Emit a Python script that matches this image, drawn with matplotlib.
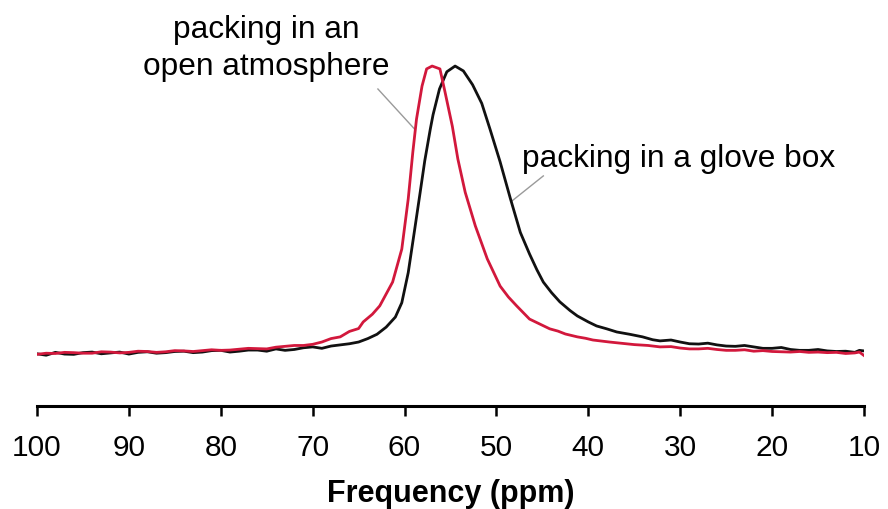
import numpy as np
import matplotlib.pyplot as plt

# 13C-achtige NMR spectra, genormaliseerd op piekhoogte (0 = basislijn, 100 = piek)
ppm_glove = [100, 99, 98, 97, 96, 95, 94, 93, 92, 91, 90, 89, 88, 87, 86, 85, 84, 83, 82, 81,
             80, 79, 78, 77, 76, 75, 74, 73, 72, 71, 70, 69, 68, 67, 66, 65, 64, 63, 62, 61,
             60.3, 59.6, 58.9, 58.3, 57.8, 57.2, 56.9, 56.2, 55.4, 54.5, 53.6, 52.6, 51.6,
             50.7, 49.6, 48.5, 47.4, 46.4, 45.6, 44.9, 44, 43.1, 42, 41.2, 40, 39.1, 38, 36.9,
             35.5, 34.1, 33, 32.2, 31, 30, 29, 28, 27, 26, 25, 24, 23, 22, 21, 20, 19, 18, 17,
             16, 15, 14, 13, 12, 11, 10.5, 10]
h_glove = [-0.3, -0.8, 0.2, -0.4, -0.5, 0.1, 0.3, -0.3, 0.0, 0.3, -0.4, 0.2, 0.4, -0.1, 0.1, 0.5,
           0.6, 0.1, 0.3, 0.8, 0.9, 0.3, 0.6, 1.0, 1.0, 0.6, 1.4, 0.9, 1.2, 1.8, 2.1, 1.6, 2.4, 2.8,
           3.2, 3.8, 5.0, 6.5, 9.0, 12.5,
           17.5, 28.0, 43.0, 56.0, 67.0, 78.0, 83.0, 92.0, 98.0, 100.0, 98.3, 93.5, 87.0,
           78.0, 66.6, 54.0, 42.0, 34.5, 29.0, 24.7, 21.0, 17.8, 14.8, 12.9, 10.8, 9.4, 8.4, 7.3,
           6.5, 5.6, 4.6, 4.2, 4.5, 3.8, 3.2, 3.1, 3.4, 2.8, 2.4, 2.3, 2.6, 2.1, 1.6, 1.6, 1.9, 1.2,
           0.9, 0.9, 1.2, 0.7, 0.5, 0.6, 0.2, 0.9, 0.7]

ppm_open = [100, 99, 98, 97, 96, 95, 94, 93, 92, 91, 90, 89, 88, 87, 86, 85, 84, 83, 82, 81,
            80, 79, 78, 77, 76, 75, 74, 73, 72, 71, 70, 69, 68, 67, 66, 65, 64.5, 63.5, 62.7,
            61.3, 60.3, 59.6, 59.1, 58.7, 58.1, 57.6, 57.0, 56.15, 55.6, 54.8, 54.2, 53.4,
            52.3, 51.0, 49.6, 48.7, 47.8, 46.4, 45.3, 44.2, 43.3, 42.5, 41.2, 40.3, 39.5, 37.7,
            36.5, 35, 33.5, 32.2, 31, 30, 29, 28, 27, 26, 25, 24, 23, 22, 21, 20, 19, 18, 17,
            16, 15, 14, 13, 12, 11, 10.5, 10]
h_open = [-0.5, -0.1, -0.2, 0.2, 0.1, -0.1, -0.1, 0.4, 0.3, 0.0, 0.2, 0.6, 0.5, 0.2, 0.4, 0.8,
          0.7, 0.5, 0.8, 1.1, 0.9, 1.0, 1.3, 1.6, 1.5, 1.4, 2.0, 2.3, 2.6, 2.6, 3.0, 3.8, 5.0, 5.6,
          7.5, 8.5, 10.8, 13.5, 16.4,
          24.7, 36.2, 53.7, 70.0, 81.5, 93.0, 99.0, 100.0, 99.0, 91.0, 79.0, 67.6, 56.0,
          44.3, 32.8, 23.3, 19.5, 16.4, 11.8, 10.1, 8.4, 7.6, 6.6, 5.6, 5.1, 4.5, 3.8,
          3.4, 2.9, 2.6, 2.1, 2.2, 1.7, 1.4, 1.4, 1.6, 1.2, 0.9, 0.9, 1.1, 0.6, 0.8, 0.5, 0.4, 0.3,
          0.5, 0.2, 0.3, 0.1, 0.2, -0.2, 0.0, 0.3, -0.9]

label_open = "packing in an\nopen atmosphere"
label_glove = "packing in a glove box"

plt.rcParams['font.family'] = ['Liberation Sans', 'DejaVu Sans']

fig = plt.figure(figsize=(8.88, 5.10), dpi=100)
ax = fig.add_axes([37 / 888, 1 - 407 / 510, (864 - 37) / 888, 387 / 510])

ax.plot(ppm_glove, h_glove, color='#111111', lw=2.0, zorder=3)
ax.plot(ppm_open, h_open, color='#D2183C', lw=2.0, zorder=4)

ax.set_xlim(100, 10)
ax.set_ylim(-18.5, 116.4)
ax.set_xticks(np.arange(100, 9, -10))
ax.set_yticks([])
for s in ['left', 'right', 'top']:
    ax.spines[s].set_visible(False)
ax.spines['bottom'].set_linewidth(2.2)
ax.tick_params(axis='x', direction='out', length=7.5, width=1.8, labelsize=21.5, pad=12)
ax.set_xlabel("Frequency (ppm)", fontsize=22, fontweight='bold', labelpad=12)

# aantekeningen met grijze hulplijnen
ax.plot([62.9, 58.9], [92, 78], color='#9a9a9a', lw=1.0)
ax.plot([44.9, 48.3], [61.7, 53], color='#9a9a9a', lw=1.0)
ax.text(75.1, 106.5, label_open, ha='center', va='center', fontsize=22.8, linespacing=1.3)
ax.text(47.2, 65.2, label_glove, ha='left', va='baseline', fontsize=22.8)

fig.savefig("out.png", dpi=100)
